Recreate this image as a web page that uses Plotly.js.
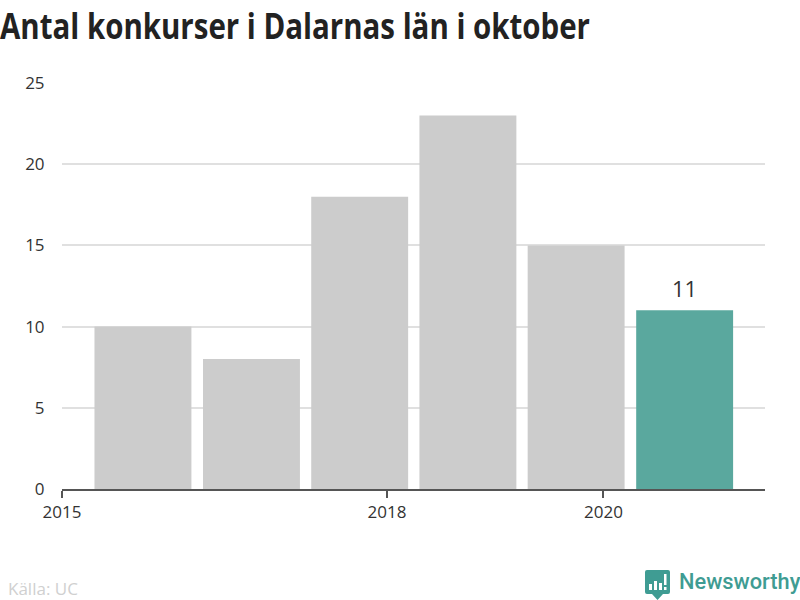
<!DOCTYPE html>
<html><head><meta charset="utf-8">
<script src="https://cdn.plot.ly/plotly-3.0.1.min.js"></script>
<style>html,body{margin:0;padding:0;background:#fff}#c{width:800px;height:600px}</style>
</head><body><div id="c"></div>
<script>
const dates = ['2015-10-01','2016-10-01','2017-10-01','2018-10-01','2019-10-01','2020-10-01'];
const counts = [10, 8, 18, 23, 15, 11];
const barColors = ['#cccccc','#cccccc','#cccccc','#cccccc','#cccccc','#5aa89e'];
const xTicks = ['2015-01-01','2018-01-01','2020-01-01'];
const xTickText = ['2015','2018','2020'];
const yTicks = [0,5,10,15,20,25];
const titleText = 'Antal konkurser i Dalarnas län i oktober';
const sourceText = 'Källa: UC';
const brandText = 'Newsworthy';

const logo = 'data:image/svg+xml;utf8,' + encodeURIComponent(
 '<svg xmlns="http://www.w3.org/2000/svg" viewBox="0 0 25 30"><path fill="#3f9c93" d="M2 0H23a2 2 0 0 1 2 2V22a2 2 0 0 1-2 2H18L12.500 30L7 24H2a2 2 0 0 1-2-2V2a2 2 0 0 1 2-2Z"/><g fill="#fff"><rect x="4" y="14" width="3" height="6"/><rect x="9" y="11" width="3" height="9"/><rect x="14" y="13" width="3" height="7"/><rect x="19" y="4" width="2.500" height="11"/><rect x="19" y="17" width="2.500" height="3"/></g></svg>');

const PH = 407, BOT = 489;
Plotly.newPlot('c', [{
  type:'bar', x:dates, y:counts, width:0.895*365.25*86400000,
  marker:{color:barColors, line:{width:0}}, hoverinfo:'skip'
}], {
  width:800, height:600, showlegend:false, paper_bgcolor:'#fff', plot_bgcolor:'#fff',
  margin:{l:62, r:35, t:82, b:111, pad:0},
  font:{family:'"Open Sans"', size:17, color:'#333333'},
  xaxis:{type:'date', range:['2015-01-01','2021-06-29'], tickmode:'array', tickvals:xTicks, ticktext:xTickText,
    ticks:'outside', ticklen:7, tickwidth:2, tickcolor:'#555555', showgrid:false, showline:true, linecolor:'#555555', linewidth:2, zeroline:false, tickfont:{size:17,color:'#333333'}},
  yaxis:{range:[0,25.06], tickmode:'array', tickvals:yTicks, ticks:'outside', ticklen:13, tickcolor:'rgba(0,0,0,0)', showgrid:true, gridcolor:'#e0e0e0', gridwidth:2, zeroline:false, showline:false, tickfont:{size:17,color:'#333333'}},
  annotations:[
    {xref:'x',yref:'y',x:dates[5],y:counts[5],yanchor:'bottom',yshift:5,showarrow:false,text:String(counts[5]),font:{size:22,color:'#333333'}},
    {xref:'paper',yref:'paper',x:-64/703,y:1+(82-26)/PH,xanchor:'left',yanchor:'middle',showarrow:false,text:'<b>'+titleText+'</b>',font:{family:'"Open Sans"',size:36,color:'#222222'}},
    {xref:'paper',yref:'paper',x:-56/703,y:-(588-BOT)/PH,xanchor:'left',yanchor:'middle',showarrow:false,text:sourceText,font:{size:17,color:'#d0d0d0'}},
    {xref:'paper',yref:'paper',x:(677-62)/703,y:-(581.500-BOT)/PH,xanchor:'left',yanchor:'middle',showarrow:false,text:brandText,font:{family:'Roboto',size:21.8,color:'#3f9c93', weight:500}}
  ],
  images:[{source:logo,xref:'paper',yref:'paper',x:(645-62)/703,y:-(570-BOT)/PH,sizex:25/703,sizey:30/PH,xanchor:'left',yanchor:'top',sizing:'contain',layer:'above'}]
},{displayModeBar:false,staticPlot:true}).then(function(gd){
  document.querySelectorAll('.annotation-text').forEach(function(t){
    if(t.textContent===titleText){
      const b=t.querySelector('tspan')||t;
      const x0=t.getBBox().x;
      t.setAttribute('text-anchor','start');
      t.setAttribute('x',x0);
      b.setAttribute('textLength',590);
      t.setAttribute('textLength',590);
      t.setAttribute('lengthAdjust','spacingAndGlyphs');
      b.setAttribute('lengthAdjust','spacingAndGlyphs');
    }
  });
});
</script></body></html>
